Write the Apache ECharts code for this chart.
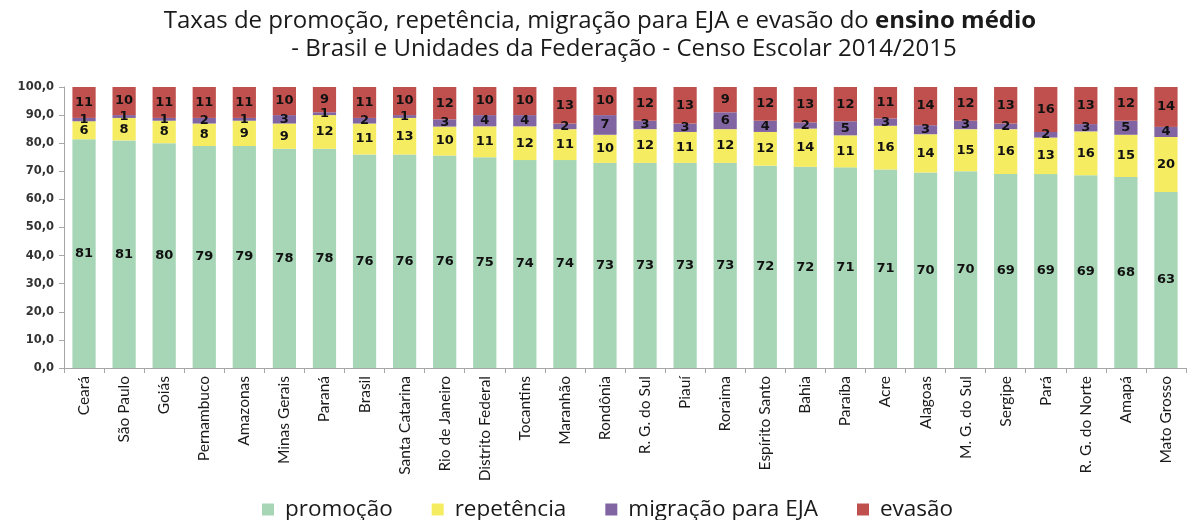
<!DOCTYPE html>
<html><head><meta charset="utf-8">
<script src="https://cdn.jsdelivr.net/npm/echarts@6/dist/echarts.min.js"></script>
<style>html,body{margin:0;padding:0;background:#fff}#c{width:1190px;height:520px}</style>
</head><body><div id="c"></div>
<script>
const categories = ["Ceará","São Paulo","Goiás","Pernambuco","Amazonas","Minas Gerais","Paraná","Brasil","Santa Catarina","Rio de Janeiro","Distrito Federal","Tocantins","Maranhão","Rondônia","R. G. do Sul","Piauí","Roraima","Espírito Santo","Bahia","Paraíba","Acre","Alagoas","M. G. do Sul","Sergipe","Pará","R. G. do Norte","Amapá","Mato Grosso"];
const promocao   = [81.4,81,80,79,79,78,78,76,76,75.6,75,74,74,73,73,73,73,72,71.6,71.4,70.6,69.6,70,69,69,68.6,68,62.6];
const repetencia = [6.4,8,8,8,9,9,12,11,13,10.3,11,12,11,10,12,11,12,12,13.6,11.4,15.6,13.6,15,16,13,15.6,15,19.6];
const migracao   = [1.2,1,1,2,1,3,1,2,1,2.6,4,4,2,7,3,3,6,4,2.2,5.0,2.6,3.2,3,2,2,2.6,5,3.6];
const evasao     = [11.0,10,11,11,11,10,9,11,10,11.5,10,10,13,10,12,13,9,12,12.6,12.2,11.2,13.6,12,13,16,13.2,12,14.2];
const yTicks = [0,10,20,30,40,50,60,70,80,90,100];
const seriesNames = ["promoção","repetência","migração para EJA","evasão"];
const colors = ["#A6D6B6","#F6EC62","#8165A3","#C0504D"];

const chart = echarts.init(document.getElementById('c'), null, {renderer:'canvas'});
const lbl = {show:true, position:'inside', color:'#111', fontFamily:'Verdana, DejaVu Sans, sans-serif', fontWeight:'bold', fontSize:13,
  formatter: p => Math.round(p.value)};
const data = [promocao, repetencia, migracao, evasao];
const tFont = 'Open Sans, sans-serif';
chart.setOption({
  animation:false,
  title:[{
    text:'{n|Taxas de promoção, repetência, migração para EJA e evasão do }{b|ensino médio}',
    left:595, top:4, textAlign:'center',
    textStyle:{rich:{
      n:{fontFamily:tFont, fontSize:24, fontWeight:'normal', color:'#1a1a1a'},
      b:{fontFamily:tFont, fontSize:24, fontWeight:'bold', color:'#1a1a1a'}
    }}
  },{
    text:'- Brasil e Unidades da Federação - Censo Escolar 2014/2015',
    left:619, top:32, textAlign:'center',
    textStyle:{fontFamily:tFont, fontSize:24, fontWeight:'normal', color:'#1a1a1a'}
  }],
  legend:{
    top:493, left:257, itemWidth:12, itemHeight:12, itemGap:39, icon:'rect',
    textStyle:{fontFamily:tFont, fontSize:22.5, color:'#1a1a1a', padding:[0,0,0,6]},
    data:seriesNames
  },
  grid:{left:64, right:4, top:87, bottom:152},
  xAxis:{
    type:'category', data:categories,
    axisLine:{lineStyle:{color:'#A6A6A6'}},
    axisTick:{show:true, alignWithLabel:false, length:5, lineStyle:{color:'#A6A6A6'}},
    axisLabel:{rotate:90, interval:0, fontFamily:'Lato, sans-serif', fontSize:15.5, color:'#1a1a1a', margin:8}
  },
  yAxis:{
    type:'value', min:0, max:100, interval:10,
    axisLine:{show:true, lineStyle:{color:'#A6A6A6'}},
    axisTick:{show:true, length:5, lineStyle:{color:'#A6A6A6'}},
    splitLine:{show:false},
    axisLabel:{fontFamily:'Verdana, DejaVu Sans, sans-serif', fontWeight:'bold', fontSize:11.5, color:'#333', margin:10,
      formatter: v => yTicks.includes(v) ? v.toFixed(1).replace('.', ',') : ''}
  },
  series: seriesNames.map((n,i)=>({
    name:n, type:'bar', stack:'total', data:data[i], barCategoryGap:'42%',
    itemStyle:{color:colors[i]}, label:lbl
  }))
});
</script></body></html>
